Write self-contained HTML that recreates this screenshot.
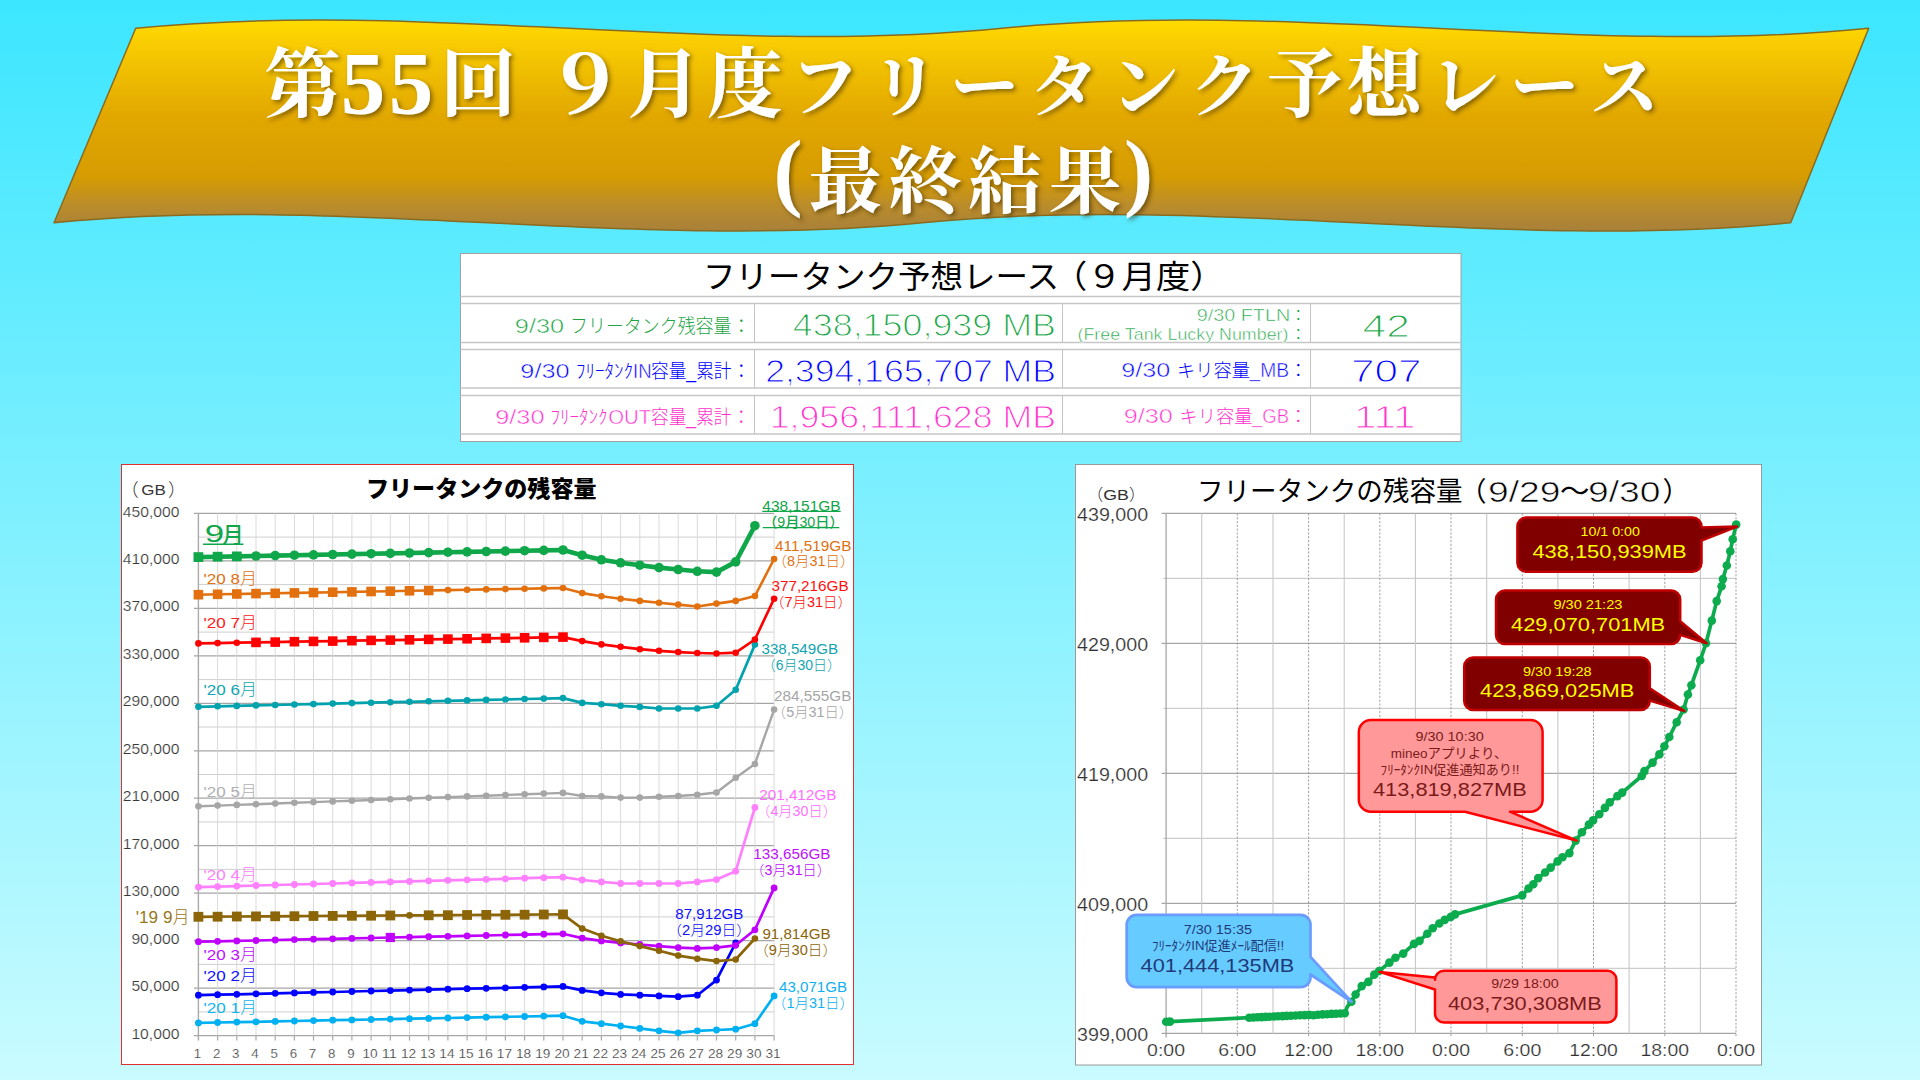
<!DOCTYPE html>
<html lang="ja">
<head>
<meta charset="utf-8">
<title>第55回 ９月度フリータンク予想レース (最終結果)</title>
<style>
html,body{margin:0;padding:0}
body{width:1920px;height:1080px;overflow:hidden;position:relative;
 background:linear-gradient(180deg,#3ce6ff 0%,#c9fbff 100%);
 font-family:"Liberation Sans","Noto Sans CJK JP",sans-serif}
svg{position:absolute;left:0;top:0;display:block}
text{font-family:"Liberation Sans","Noto Sans CJK JP",sans-serif;font-weight:300;white-space:pre}
.tw{stroke:#ffffff;stroke-width:1.05px}
.tl{stroke:#ffffff;stroke-width:0.5px}
.ta{stroke:#ffffff;stroke-width:0.2px}
.tt{stroke:#ffffff;stroke-width:0.6px}
text.ttl{font-family:"Liberation Serif","Noto Serif CJK JP","Noto Serif CJK SC",serif;font-weight:700}
</style>
</head>
<body>
<svg width="1920" height="1080" viewBox="0 0 1920 1080">
<defs>
<linearGradient id="gold" x1="0" y1="0" x2="0" y2="1">
<stop offset="0" stop-color="#ffdc00"/>
<stop offset="0.12" stop-color="#f8cb02"/>
<stop offset="0.45" stop-color="#e2a800"/>
<stop offset="0.745" stop-color="#d69c02"/>
<stop offset="0.875" stop-color="#bb8d2a"/>
<stop offset="1" stop-color="#a8803a"/>
</linearGradient>
<filter id="tsh" x="-5%" y="-20%" width="110%" height="150%">
<feDropShadow dx="2.5" dy="2.5" stdDeviation="2" flood-color="#3a2a00" flood-opacity="0.55"/>
</filter>
</defs>
<g id="banner">
<path d="M135.7 28.3 C424.5 -0.4 713.4 57.0 1002.2 28.3 C1291.0 -0.4 1579.9 57.0 1868.7 28.3 L1790.7 222.7 C1501.2 251.4 1211.8 194.0 922.4 222.7 C632.9 251.4 343.4 194.0 54.0 222.7 Z" fill="url(#gold)" stroke="#8a6a1e" stroke-width="1.5" stroke-linejoin="round"/>
<g font-weight="700" fill="#ffffff" text-anchor="middle" filter="url(#tsh)">
<text class="ttl" font-size="76" x="302.5 363.0 411.0 478.0 530.0 584.5 664.5 744.5 824.5 904.5 984.5 1064.5 1144.5 1224.5 1304.5 1384.5 1464.5 1544.5 1624.5" y="111.1 112.5 112.5 111.1 111.1 113.5 111.1 111.1 110.6 110.6 110.6 110.6 110.6 110.6 111.1 111.1 110.6 110.6 110.6">第<tspan font-size="89">55</tspan>回 <tspan font-size="80">９</tspan>月度<tspan font-size="69">フリータンク</tspan>予想<tspan font-size="69">レース</tspan></text>
<text class="ttl" font-size="73" x="788.0 845.0 925.0 1005.0 1085.0 1138.5" y="199.5 206.6 206.6 206.6 206.6 199.5"><tspan font-size="87">(</tspan>最終結果<tspan font-size="87">)</tspan></text>
</g></g>
<g id="summary-table">
<rect x="460.5" y="253.5" width="1000.5" height="188.0" fill="#ffffff" stroke="#a0a0a0" stroke-width="1"/>
<line x1="460.5" y1="296.5" x2="1461.0" y2="296.5" stroke="#c6c6c6" stroke-width="1.4"/>
<line x1="460.5" y1="303.5" x2="1461.0" y2="303.5" stroke="#c6c6c6" stroke-width="1.4"/>
<line x1="460.5" y1="342.5" x2="1461.0" y2="342.5" stroke="#c6c6c6" stroke-width="1.4"/>
<line x1="460.5" y1="349.5" x2="1461.0" y2="349.5" stroke="#c6c6c6" stroke-width="1.4"/>
<line x1="460.5" y1="388.0" x2="1461.0" y2="388.0" stroke="#c6c6c6" stroke-width="1.4"/>
<line x1="460.5" y1="395.5" x2="1461.0" y2="395.5" stroke="#c6c6c6" stroke-width="1.4"/>
<line x1="460.5" y1="434.0" x2="1461.0" y2="434.0" stroke="#c6c6c6" stroke-width="1.4"/>
<line x1="754.5" y1="303.5" x2="754.5" y2="342.5" stroke="#c4c4c4" stroke-width="1"/>
<line x1="1062.5" y1="303.5" x2="1062.5" y2="342.5" stroke="#c4c4c4" stroke-width="1"/>
<line x1="1310.5" y1="303.5" x2="1310.5" y2="342.5" stroke="#c4c4c4" stroke-width="1"/>
<line x1="754.5" y1="349.5" x2="754.5" y2="388.0" stroke="#c4c4c4" stroke-width="1"/>
<line x1="1062.5" y1="349.5" x2="1062.5" y2="388.0" stroke="#c4c4c4" stroke-width="1"/>
<line x1="1310.5" y1="349.5" x2="1310.5" y2="388.0" stroke="#c4c4c4" stroke-width="1"/>
<line x1="754.5" y1="395.5" x2="754.5" y2="434.0" stroke="#c4c4c4" stroke-width="1"/>
<line x1="1062.5" y1="395.5" x2="1062.5" y2="434.0" stroke="#c4c4c4" stroke-width="1"/>
<line x1="1310.5" y1="395.5" x2="1310.5" y2="434.0" stroke="#c4c4c4" stroke-width="1"/>
<text font-size="32" fill="#000000" y="288.0" style="font-weight:400"><tspan x="703.0" textLength="356.0" lengthAdjust="spacingAndGlyphs">フリータンク予想レース</tspan><tspan x="1053.0" textLength="171.5" lengthAdjust="spacingAndGlyphs">（９月度）</tspan></text>
<text y="332.7" fill="#1ea446"><tspan x="514.8" font-size="21" class="tl" textLength="49.3" lengthAdjust="spacingAndGlyphs">9/30</tspan><tspan x="570.0" font-size="19" textLength="161.5" lengthAdjust="spacingAndGlyphs">フリータンク残容量</tspan><tspan x="731.8" font-size="19">：</tspan></text>
<text x="792.8" y="335.5" font-size="32" fill="#1ea446" textLength="263.2" lengthAdjust="spacingAndGlyphs" class="tw">438,150,939 MB</text>
<text y="320.8" fill="#1ea446"><tspan x="1196.7" font-size="16" class="tl" textLength="93.5" lengthAdjust="spacingAndGlyphs">9/30 FTLN</tspan><tspan x="1290.2" font-size="16">：</tspan></text>
<text y="339.6" fill="#1ea446"><tspan x="1077.5" font-size="16" class="tl" textLength="211.0" lengthAdjust="spacingAndGlyphs">(Free Tank Lucky Number)</tspan><tspan x="1290.2" font-size="16">：</tspan></text>
<text x="1362.5" y="336.5" font-size="32" fill="#1ea446" textLength="47.3" lengthAdjust="spacingAndGlyphs" class="tw">42</text>
<text y="377.6" fill="#0000ff"><tspan x="520.3" font-size="21" class="tl" textLength="49.3" lengthAdjust="spacingAndGlyphs">9/30</tspan><tspan x="576.0" font-size="19" textLength="57.0" lengthAdjust="spacingAndGlyphs">ﾌﾘｰﾀﾝｸ</tspan><tspan x="633.0" font-size="21" class="tl" textLength="18.5" lengthAdjust="spacingAndGlyphs">IN</tspan><tspan x="651.0" font-size="19" textLength="80.5" lengthAdjust="spacingAndGlyphs">容量_累計</tspan><tspan x="731.8" font-size="19">：</tspan></text>
<text x="765.2" y="381.5" font-size="32" fill="#0000ff" textLength="290.8" lengthAdjust="spacingAndGlyphs" class="tw">2,394,165,707 MB</text>
<text y="377.0" fill="#0000ff"><tspan x="1121.3" font-size="20" class="tl" textLength="49.0" lengthAdjust="spacingAndGlyphs">9/30</tspan><tspan x="1177.0" font-size="18.5" textLength="73.0" lengthAdjust="spacingAndGlyphs">キリ容量</tspan><tspan x="1249.5" font-size="20" class="tl" textLength="39.5" lengthAdjust="spacingAndGlyphs">_MB</tspan><tspan x="1289.2" font-size="18">：</tspan></text>
<text x="1351.0" y="381.8" font-size="32" fill="#0000ff" textLength="70.5" lengthAdjust="spacingAndGlyphs" class="tw">707</text>
<text y="423.6" fill="#ff33cc"><tspan x="495.2" font-size="21" class="tl" textLength="49.3" lengthAdjust="spacingAndGlyphs">9/30</tspan><tspan x="550.5" font-size="19" textLength="57.0" lengthAdjust="spacingAndGlyphs">ﾌﾘｰﾀﾝｸ</tspan><tspan x="608.2" font-size="21" class="tl" textLength="43.0" lengthAdjust="spacingAndGlyphs">OUT</tspan><tspan x="651.0" font-size="19" textLength="80.5" lengthAdjust="spacingAndGlyphs">容量_累計</tspan><tspan x="731.8" font-size="19">：</tspan></text>
<text x="769.7" y="427.5" font-size="32" fill="#ff33cc" textLength="286.3" lengthAdjust="spacingAndGlyphs" class="tw">1,956,111,628 MB</text>
<text y="422.9" fill="#ff33cc"><tspan x="1123.8" font-size="20" class="tl" textLength="49.0" lengthAdjust="spacingAndGlyphs">9/30</tspan><tspan x="1179.5" font-size="18.5" textLength="73.0" lengthAdjust="spacingAndGlyphs">キリ容量</tspan><tspan x="1252.0" font-size="20" class="tl" textLength="37.0" lengthAdjust="spacingAndGlyphs">_GB</tspan><tspan x="1289.2" font-size="18">：</tspan></text>
<text x="1354.0" y="427.8" font-size="32" fill="#ff33cc" textLength="61.5" lengthAdjust="spacingAndGlyphs" class="tw">111</text>
</g>
<g id="chart-monthly">
<rect x="121.5" y="464.5" width="732" height="600" fill="#ffffff" stroke="#e03030" stroke-width="1"/>
<line x1="194.0" y1="513.4" x2="774.1" y2="513.4" stroke="#a6a6a6" stroke-width="1.2"/>
<line x1="198.4" y1="537.1" x2="774.1" y2="537.1" stroke="#cfcfcf" stroke-width="1.0"/>
<line x1="194.0" y1="560.9" x2="774.1" y2="560.9" stroke="#a6a6a6" stroke-width="1.2"/>
<line x1="198.4" y1="584.6" x2="774.1" y2="584.6" stroke="#cfcfcf" stroke-width="1.0"/>
<line x1="194.0" y1="608.3" x2="774.1" y2="608.3" stroke="#a6a6a6" stroke-width="1.2"/>
<line x1="198.4" y1="632.1" x2="774.1" y2="632.1" stroke="#cfcfcf" stroke-width="1.0"/>
<line x1="194.0" y1="655.8" x2="774.1" y2="655.8" stroke="#a6a6a6" stroke-width="1.2"/>
<line x1="198.4" y1="679.6" x2="774.1" y2="679.6" stroke="#cfcfcf" stroke-width="1.0"/>
<line x1="194.0" y1="703.3" x2="774.1" y2="703.3" stroke="#a6a6a6" stroke-width="1.2"/>
<line x1="198.4" y1="727.0" x2="774.1" y2="727.0" stroke="#cfcfcf" stroke-width="1.0"/>
<line x1="194.0" y1="750.8" x2="774.1" y2="750.8" stroke="#a6a6a6" stroke-width="1.2"/>
<line x1="198.4" y1="774.5" x2="774.1" y2="774.5" stroke="#cfcfcf" stroke-width="1.0"/>
<line x1="194.0" y1="798.2" x2="774.1" y2="798.2" stroke="#a6a6a6" stroke-width="1.2"/>
<line x1="198.4" y1="822.0" x2="774.1" y2="822.0" stroke="#cfcfcf" stroke-width="1.0"/>
<line x1="194.0" y1="845.7" x2="774.1" y2="845.7" stroke="#a6a6a6" stroke-width="1.2"/>
<line x1="198.4" y1="869.4" x2="774.1" y2="869.4" stroke="#cfcfcf" stroke-width="1.0"/>
<line x1="194.0" y1="893.2" x2="774.1" y2="893.2" stroke="#a6a6a6" stroke-width="1.2"/>
<line x1="198.4" y1="916.9" x2="774.1" y2="916.9" stroke="#cfcfcf" stroke-width="1.0"/>
<line x1="194.0" y1="940.7" x2="774.1" y2="940.7" stroke="#a6a6a6" stroke-width="1.2"/>
<line x1="198.4" y1="964.4" x2="774.1" y2="964.4" stroke="#cfcfcf" stroke-width="1.0"/>
<line x1="194.0" y1="988.1" x2="774.1" y2="988.1" stroke="#a6a6a6" stroke-width="1.2"/>
<line x1="198.4" y1="1011.9" x2="774.1" y2="1011.9" stroke="#cfcfcf" stroke-width="1.0"/>
<line x1="194.0" y1="1035.6" x2="774.1" y2="1035.6" stroke="#a6a6a6" stroke-width="1.2"/>
<line x1="198.4" y1="513.4" x2="198.4" y2="1040.6" stroke="#a9a9a9" stroke-width="1.4"/>
<line x1="217.6" y1="513.4" x2="217.6" y2="1035.6" stroke="#d6d6d6" stroke-width="0.9"/>
<line x1="217.6" y1="1035.6" x2="217.6" y2="1040.6" stroke="#a9a9a9" stroke-width="1.2"/>
<line x1="236.8" y1="513.4" x2="236.8" y2="1035.6" stroke="#d6d6d6" stroke-width="0.9"/>
<line x1="236.8" y1="1035.6" x2="236.8" y2="1040.6" stroke="#a9a9a9" stroke-width="1.2"/>
<line x1="256.0" y1="513.4" x2="256.0" y2="1035.6" stroke="#d6d6d6" stroke-width="0.9"/>
<line x1="256.0" y1="1035.6" x2="256.0" y2="1040.6" stroke="#a9a9a9" stroke-width="1.2"/>
<line x1="275.2" y1="513.4" x2="275.2" y2="1035.6" stroke="#d6d6d6" stroke-width="0.9"/>
<line x1="275.2" y1="1035.6" x2="275.2" y2="1040.6" stroke="#a9a9a9" stroke-width="1.2"/>
<line x1="294.4" y1="513.4" x2="294.4" y2="1035.6" stroke="#d6d6d6" stroke-width="0.9"/>
<line x1="294.4" y1="1035.6" x2="294.4" y2="1040.6" stroke="#a9a9a9" stroke-width="1.2"/>
<line x1="313.5" y1="513.4" x2="313.5" y2="1035.6" stroke="#d6d6d6" stroke-width="0.9"/>
<line x1="313.5" y1="1035.6" x2="313.5" y2="1040.6" stroke="#a9a9a9" stroke-width="1.2"/>
<line x1="332.7" y1="513.4" x2="332.7" y2="1035.6" stroke="#d6d6d6" stroke-width="0.9"/>
<line x1="332.7" y1="1035.6" x2="332.7" y2="1040.6" stroke="#a9a9a9" stroke-width="1.2"/>
<line x1="351.9" y1="513.4" x2="351.9" y2="1035.6" stroke="#d6d6d6" stroke-width="0.9"/>
<line x1="351.9" y1="1035.6" x2="351.9" y2="1040.6" stroke="#a9a9a9" stroke-width="1.2"/>
<line x1="371.1" y1="513.4" x2="371.1" y2="1035.6" stroke="#d6d6d6" stroke-width="0.9"/>
<line x1="371.1" y1="1035.6" x2="371.1" y2="1040.6" stroke="#a9a9a9" stroke-width="1.2"/>
<line x1="390.3" y1="513.4" x2="390.3" y2="1035.6" stroke="#d6d6d6" stroke-width="0.9"/>
<line x1="390.3" y1="1035.6" x2="390.3" y2="1040.6" stroke="#a9a9a9" stroke-width="1.2"/>
<line x1="409.5" y1="513.4" x2="409.5" y2="1035.6" stroke="#d6d6d6" stroke-width="0.9"/>
<line x1="409.5" y1="1035.6" x2="409.5" y2="1040.6" stroke="#a9a9a9" stroke-width="1.2"/>
<line x1="428.7" y1="513.4" x2="428.7" y2="1035.6" stroke="#d6d6d6" stroke-width="0.9"/>
<line x1="428.7" y1="1035.6" x2="428.7" y2="1040.6" stroke="#a9a9a9" stroke-width="1.2"/>
<line x1="447.9" y1="513.4" x2="447.9" y2="1035.6" stroke="#d6d6d6" stroke-width="0.9"/>
<line x1="447.9" y1="1035.6" x2="447.9" y2="1040.6" stroke="#a9a9a9" stroke-width="1.2"/>
<line x1="467.1" y1="513.4" x2="467.1" y2="1035.6" stroke="#d6d6d6" stroke-width="0.9"/>
<line x1="467.1" y1="1035.6" x2="467.1" y2="1040.6" stroke="#a9a9a9" stroke-width="1.2"/>
<line x1="486.2" y1="513.4" x2="486.2" y2="1035.6" stroke="#d6d6d6" stroke-width="0.9"/>
<line x1="486.2" y1="1035.6" x2="486.2" y2="1040.6" stroke="#a9a9a9" stroke-width="1.2"/>
<line x1="505.4" y1="513.4" x2="505.4" y2="1035.6" stroke="#d6d6d6" stroke-width="0.9"/>
<line x1="505.4" y1="1035.6" x2="505.4" y2="1040.6" stroke="#a9a9a9" stroke-width="1.2"/>
<line x1="524.6" y1="513.4" x2="524.6" y2="1035.6" stroke="#d6d6d6" stroke-width="0.9"/>
<line x1="524.6" y1="1035.6" x2="524.6" y2="1040.6" stroke="#a9a9a9" stroke-width="1.2"/>
<line x1="543.8" y1="513.4" x2="543.8" y2="1035.6" stroke="#d6d6d6" stroke-width="0.9"/>
<line x1="543.8" y1="1035.6" x2="543.8" y2="1040.6" stroke="#a9a9a9" stroke-width="1.2"/>
<line x1="563.0" y1="513.4" x2="563.0" y2="1035.6" stroke="#d6d6d6" stroke-width="0.9"/>
<line x1="563.0" y1="1035.6" x2="563.0" y2="1040.6" stroke="#a9a9a9" stroke-width="1.2"/>
<line x1="582.2" y1="513.4" x2="582.2" y2="1035.6" stroke="#d6d6d6" stroke-width="0.9"/>
<line x1="582.2" y1="1035.6" x2="582.2" y2="1040.6" stroke="#a9a9a9" stroke-width="1.2"/>
<line x1="601.4" y1="513.4" x2="601.4" y2="1035.6" stroke="#d6d6d6" stroke-width="0.9"/>
<line x1="601.4" y1="1035.6" x2="601.4" y2="1040.6" stroke="#a9a9a9" stroke-width="1.2"/>
<line x1="620.6" y1="513.4" x2="620.6" y2="1035.6" stroke="#d6d6d6" stroke-width="0.9"/>
<line x1="620.6" y1="1035.6" x2="620.6" y2="1040.6" stroke="#a9a9a9" stroke-width="1.2"/>
<line x1="639.8" y1="513.4" x2="639.8" y2="1035.6" stroke="#d6d6d6" stroke-width="0.9"/>
<line x1="639.8" y1="1035.6" x2="639.8" y2="1040.6" stroke="#a9a9a9" stroke-width="1.2"/>
<line x1="659.0" y1="513.4" x2="659.0" y2="1035.6" stroke="#d6d6d6" stroke-width="0.9"/>
<line x1="659.0" y1="1035.6" x2="659.0" y2="1040.6" stroke="#a9a9a9" stroke-width="1.2"/>
<line x1="678.2" y1="513.4" x2="678.2" y2="1035.6" stroke="#d6d6d6" stroke-width="0.9"/>
<line x1="678.2" y1="1035.6" x2="678.2" y2="1040.6" stroke="#a9a9a9" stroke-width="1.2"/>
<line x1="697.3" y1="513.4" x2="697.3" y2="1035.6" stroke="#d6d6d6" stroke-width="0.9"/>
<line x1="697.3" y1="1035.6" x2="697.3" y2="1040.6" stroke="#a9a9a9" stroke-width="1.2"/>
<line x1="716.5" y1="513.4" x2="716.5" y2="1035.6" stroke="#d6d6d6" stroke-width="0.9"/>
<line x1="716.5" y1="1035.6" x2="716.5" y2="1040.6" stroke="#a9a9a9" stroke-width="1.2"/>
<line x1="735.7" y1="513.4" x2="735.7" y2="1035.6" stroke="#d6d6d6" stroke-width="0.9"/>
<line x1="735.7" y1="1035.6" x2="735.7" y2="1040.6" stroke="#a9a9a9" stroke-width="1.2"/>
<line x1="754.9" y1="513.4" x2="754.9" y2="1035.6" stroke="#d6d6d6" stroke-width="0.9"/>
<line x1="754.9" y1="1035.6" x2="754.9" y2="1040.6" stroke="#a9a9a9" stroke-width="1.2"/>
<line x1="774.1" y1="513.4" x2="774.1" y2="1035.6" stroke="#d6d6d6" stroke-width="0.9"/>
<line x1="774.1" y1="1035.6" x2="774.1" y2="1040.6" stroke="#a9a9a9" stroke-width="1.2"/>
<text x="122.8" y="516.5" font-size="15" fill="#383838" textLength="56.6" lengthAdjust="spacingAndGlyphs" class="ta">450,000</text>
<text x="122.8" y="564.0" font-size="15" fill="#383838" textLength="56.6" lengthAdjust="spacingAndGlyphs" class="ta">410,000</text>
<text x="122.8" y="611.4" font-size="15" fill="#383838" textLength="56.6" lengthAdjust="spacingAndGlyphs" class="ta">370,000</text>
<text x="122.8" y="658.9" font-size="15" fill="#383838" textLength="56.6" lengthAdjust="spacingAndGlyphs" class="ta">330,000</text>
<text x="122.8" y="706.4" font-size="15" fill="#383838" textLength="56.6" lengthAdjust="spacingAndGlyphs" class="ta">290,000</text>
<text x="122.8" y="753.9" font-size="15" fill="#383838" textLength="56.6" lengthAdjust="spacingAndGlyphs" class="ta">250,000</text>
<text x="122.8" y="801.3" font-size="15" fill="#383838" textLength="56.6" lengthAdjust="spacingAndGlyphs" class="ta">210,000</text>
<text x="122.8" y="848.8" font-size="15" fill="#383838" textLength="56.6" lengthAdjust="spacingAndGlyphs" class="ta">170,000</text>
<text x="122.8" y="896.3" font-size="15" fill="#383838" textLength="56.6" lengthAdjust="spacingAndGlyphs" class="ta">130,000</text>
<text x="131.4" y="943.8" font-size="15" fill="#383838" textLength="48.0" lengthAdjust="spacingAndGlyphs" class="ta">90,000</text>
<text x="131.4" y="991.2" font-size="15" fill="#383838" textLength="48.0" lengthAdjust="spacingAndGlyphs" class="ta">50,000</text>
<text x="131.4" y="1038.7" font-size="15" fill="#383838" textLength="48.0" lengthAdjust="spacingAndGlyphs" class="ta">10,000</text>
<text x="193.7" y="1058.3" font-size="13" fill="#3c3c3c" textLength="7.4" lengthAdjust="spacingAndGlyphs" class="ta">1</text>
<text x="212.9" y="1058.3" font-size="13" fill="#3c3c3c" textLength="7.4" lengthAdjust="spacingAndGlyphs" class="ta">2</text>
<text x="232.1" y="1058.3" font-size="13" fill="#3c3c3c" textLength="7.4" lengthAdjust="spacingAndGlyphs" class="ta">3</text>
<text x="251.3" y="1058.3" font-size="13" fill="#3c3c3c" textLength="7.4" lengthAdjust="spacingAndGlyphs" class="ta">4</text>
<text x="270.5" y="1058.3" font-size="13" fill="#3c3c3c" textLength="7.4" lengthAdjust="spacingAndGlyphs" class="ta">5</text>
<text x="289.7" y="1058.3" font-size="13" fill="#3c3c3c" textLength="7.4" lengthAdjust="spacingAndGlyphs" class="ta">6</text>
<text x="308.8" y="1058.3" font-size="13" fill="#3c3c3c" textLength="7.4" lengthAdjust="spacingAndGlyphs" class="ta">7</text>
<text x="328.0" y="1058.3" font-size="13" fill="#3c3c3c" textLength="7.4" lengthAdjust="spacingAndGlyphs" class="ta">8</text>
<text x="347.2" y="1058.3" font-size="13" fill="#3c3c3c" textLength="7.4" lengthAdjust="spacingAndGlyphs" class="ta">9</text>
<text x="362.5" y="1058.3" font-size="13" fill="#3c3c3c" textLength="15.2" lengthAdjust="spacingAndGlyphs" class="ta">10</text>
<text x="381.7" y="1058.3" font-size="13" fill="#3c3c3c" textLength="15.2" lengthAdjust="spacingAndGlyphs" class="ta">11</text>
<text x="400.9" y="1058.3" font-size="13" fill="#3c3c3c" textLength="15.2" lengthAdjust="spacingAndGlyphs" class="ta">12</text>
<text x="420.1" y="1058.3" font-size="13" fill="#3c3c3c" textLength="15.2" lengthAdjust="spacingAndGlyphs" class="ta">13</text>
<text x="439.3" y="1058.3" font-size="13" fill="#3c3c3c" textLength="15.2" lengthAdjust="spacingAndGlyphs" class="ta">14</text>
<text x="458.5" y="1058.3" font-size="13" fill="#3c3c3c" textLength="15.2" lengthAdjust="spacingAndGlyphs" class="ta">15</text>
<text x="477.6" y="1058.3" font-size="13" fill="#3c3c3c" textLength="15.2" lengthAdjust="spacingAndGlyphs" class="ta">16</text>
<text x="496.8" y="1058.3" font-size="13" fill="#3c3c3c" textLength="15.2" lengthAdjust="spacingAndGlyphs" class="ta">17</text>
<text x="516.0" y="1058.3" font-size="13" fill="#3c3c3c" textLength="15.2" lengthAdjust="spacingAndGlyphs" class="ta">18</text>
<text x="535.2" y="1058.3" font-size="13" fill="#3c3c3c" textLength="15.2" lengthAdjust="spacingAndGlyphs" class="ta">19</text>
<text x="554.4" y="1058.3" font-size="13" fill="#3c3c3c" textLength="15.2" lengthAdjust="spacingAndGlyphs" class="ta">20</text>
<text x="573.6" y="1058.3" font-size="13" fill="#3c3c3c" textLength="15.2" lengthAdjust="spacingAndGlyphs" class="ta">21</text>
<text x="592.8" y="1058.3" font-size="13" fill="#3c3c3c" textLength="15.2" lengthAdjust="spacingAndGlyphs" class="ta">22</text>
<text x="612.0" y="1058.3" font-size="13" fill="#3c3c3c" textLength="15.2" lengthAdjust="spacingAndGlyphs" class="ta">23</text>
<text x="631.2" y="1058.3" font-size="13" fill="#3c3c3c" textLength="15.2" lengthAdjust="spacingAndGlyphs" class="ta">24</text>
<text x="650.4" y="1058.3" font-size="13" fill="#3c3c3c" textLength="15.2" lengthAdjust="spacingAndGlyphs" class="ta">25</text>
<text x="669.6" y="1058.3" font-size="13" fill="#3c3c3c" textLength="15.2" lengthAdjust="spacingAndGlyphs" class="ta">26</text>
<text x="688.7" y="1058.3" font-size="13" fill="#3c3c3c" textLength="15.2" lengthAdjust="spacingAndGlyphs" class="ta">27</text>
<text x="707.9" y="1058.3" font-size="13" fill="#3c3c3c" textLength="15.2" lengthAdjust="spacingAndGlyphs" class="ta">28</text>
<text x="727.1" y="1058.3" font-size="13" fill="#3c3c3c" textLength="15.2" lengthAdjust="spacingAndGlyphs" class="ta">29</text>
<text x="746.3" y="1058.3" font-size="13" fill="#3c3c3c" textLength="15.2" lengthAdjust="spacingAndGlyphs" class="ta">30</text>
<text x="765.5" y="1058.3" font-size="13" fill="#3c3c3c" textLength="15.2" lengthAdjust="spacingAndGlyphs" class="ta">31</text>
<text fill="#383838"><tspan font-size="18" x="120.7" y="495.8">（</tspan><tspan font-size="15.5" x="141.3" y="495.0" textLength="24.6" lengthAdjust="spacingAndGlyphs">GB</tspan><tspan font-size="18" x="167.9" y="495.8">）</tspan></text>
<text x="366.0" y="497.1" font-size="22.5" fill="#000000" style="font-weight:900" textLength="230.5" lengthAdjust="spacingAndGlyphs">フリータンクの残容量</text>
<g fill="#00b0f0">
<polyline points="198.4,1022.9 217.6,1022.5 236.8,1022.1 256.0,1021.8 275.2,1021.4 294.4,1021.0 313.5,1020.6 332.7,1020.2 351.9,1019.9 371.1,1019.5 390.3,1019.1 409.5,1018.7 428.7,1018.4 447.9,1018.0 467.1,1017.6 486.2,1017.2 505.4,1016.8 524.6,1016.5 543.8,1016.1 563.0,1015.7 582.2,1021.3 601.4,1023.7 620.6,1026.0 639.8,1028.4 659.0,1030.8 678.2,1032.8 697.3,1030.8 716.5,1030.0 735.7,1029.2 754.9,1023.7 774.1,995.9" fill="none" stroke="#00b0f0" stroke-width="2.7" stroke-linejoin="round" stroke-linecap="round"/>
<circle cx="198.4" cy="1022.9" r="3.4"/>
<circle cx="217.6" cy="1022.5" r="3.4"/>
<circle cx="236.8" cy="1022.1" r="3.4"/>
<circle cx="256.0" cy="1021.8" r="3.4"/>
<circle cx="275.2" cy="1021.4" r="3.4"/>
<circle cx="294.4" cy="1021.0" r="3.4"/>
<circle cx="313.5" cy="1020.6" r="3.4"/>
<circle cx="332.7" cy="1020.2" r="3.4"/>
<circle cx="351.9" cy="1019.9" r="3.4"/>
<circle cx="371.1" cy="1019.5" r="3.4"/>
<circle cx="390.3" cy="1019.1" r="3.4"/>
<circle cx="409.5" cy="1018.7" r="3.4"/>
<circle cx="428.7" cy="1018.4" r="3.4"/>
<circle cx="447.9" cy="1018.0" r="3.4"/>
<circle cx="467.1" cy="1017.6" r="3.4"/>
<circle cx="486.2" cy="1017.2" r="3.4"/>
<circle cx="505.4" cy="1016.8" r="3.4"/>
<circle cx="524.6" cy="1016.5" r="3.4"/>
<circle cx="543.8" cy="1016.1" r="3.4"/>
<circle cx="563.0" cy="1015.7" r="3.4"/>
<circle cx="582.2" cy="1021.3" r="3.4"/>
<circle cx="601.4" cy="1023.7" r="3.4"/>
<circle cx="620.6" cy="1026.0" r="3.4"/>
<circle cx="639.8" cy="1028.4" r="3.4"/>
<circle cx="659.0" cy="1030.8" r="3.4"/>
<circle cx="678.2" cy="1032.8" r="3.4"/>
<circle cx="697.3" cy="1030.8" r="3.4"/>
<circle cx="716.5" cy="1030.0" r="3.4"/>
<circle cx="735.7" cy="1029.2" r="3.4"/>
<circle cx="754.9" cy="1023.7" r="3.4"/>
<circle cx="774.1" cy="995.9" r="3.4"/>
</g>
<g fill="#0000ff">
<polyline points="198.4,995.2 217.6,994.7 236.8,994.3 256.0,993.8 275.2,993.3 294.4,992.9 313.5,992.4 332.7,992.0 351.9,991.5 371.1,991.0 390.3,990.6 409.5,990.1 428.7,989.6 447.9,989.2 467.1,988.7 486.2,988.3 505.4,987.8 524.6,987.3 543.8,986.9 563.0,986.4 582.2,990.4 601.4,992.8 620.6,994.4 639.8,995.2 659.0,995.9 678.2,996.7 697.3,995.2 716.5,980.1 735.7,942.9" fill="none" stroke="#0000ff" stroke-width="2.7" stroke-linejoin="round" stroke-linecap="round"/>
<circle cx="198.4" cy="995.2" r="3.4"/>
<circle cx="217.6" cy="994.7" r="3.4"/>
<circle cx="236.8" cy="994.3" r="3.4"/>
<circle cx="256.0" cy="993.8" r="3.4"/>
<circle cx="275.2" cy="993.3" r="3.4"/>
<circle cx="294.4" cy="992.9" r="3.4"/>
<circle cx="313.5" cy="992.4" r="3.4"/>
<circle cx="332.7" cy="992.0" r="3.4"/>
<circle cx="351.9" cy="991.5" r="3.4"/>
<circle cx="371.1" cy="991.0" r="3.4"/>
<circle cx="390.3" cy="990.6" r="3.4"/>
<circle cx="409.5" cy="990.1" r="3.4"/>
<circle cx="428.7" cy="989.6" r="3.4"/>
<circle cx="447.9" cy="989.2" r="3.4"/>
<circle cx="467.1" cy="988.7" r="3.4"/>
<circle cx="486.2" cy="988.3" r="3.4"/>
<circle cx="505.4" cy="987.8" r="3.4"/>
<circle cx="524.6" cy="987.3" r="3.4"/>
<circle cx="543.8" cy="986.9" r="3.4"/>
<circle cx="563.0" cy="986.4" r="3.4"/>
<circle cx="582.2" cy="990.4" r="3.4"/>
<circle cx="601.4" cy="992.8" r="3.4"/>
<circle cx="620.6" cy="994.4" r="3.4"/>
<circle cx="639.8" cy="995.2" r="3.4"/>
<circle cx="659.0" cy="995.9" r="3.4"/>
<circle cx="678.2" cy="996.7" r="3.4"/>
<circle cx="697.3" cy="995.2" r="3.4"/>
<circle cx="716.5" cy="980.1" r="3.4"/>
<circle cx="735.7" cy="942.9" r="3.4"/>
</g>
<g fill="#c000ff">
<polyline points="198.4,941.7 217.6,941.3 236.8,940.9 256.0,940.5 275.2,940.0 294.4,939.6 313.5,939.2 332.7,938.8 351.9,938.4 371.1,938.0 390.3,937.5 409.5,937.1 428.7,936.7 447.9,936.3 467.1,935.9 486.2,935.5 505.4,935.0 524.6,934.6 543.8,934.2 563.0,933.8 582.2,938.1 601.4,940.9 620.6,942.9 639.8,944.5 659.0,946.1 678.2,947.6 697.3,948.4 716.5,947.6 735.7,945.3 754.9,929.8 774.1,887.9" fill="none" stroke="#c000ff" stroke-width="2.7" stroke-linejoin="round" stroke-linecap="round"/>
<circle cx="198.4" cy="941.7" r="3.4"/>
<circle cx="217.6" cy="941.3" r="3.4"/>
<circle cx="236.8" cy="940.9" r="3.4"/>
<circle cx="256.0" cy="940.5" r="3.4"/>
<circle cx="275.2" cy="940.0" r="3.4"/>
<circle cx="294.4" cy="939.6" r="3.4"/>
<circle cx="313.5" cy="939.2" r="3.4"/>
<circle cx="332.7" cy="938.8" r="3.4"/>
<circle cx="351.9" cy="938.4" r="3.4"/>
<circle cx="371.1" cy="938.0" r="3.4"/>
<rect x="385.7" y="932.9" width="9.2" height="9.2"/>
<circle cx="409.5" cy="937.1" r="3.4"/>
<circle cx="428.7" cy="936.7" r="3.4"/>
<circle cx="447.9" cy="936.3" r="3.4"/>
<circle cx="467.1" cy="935.9" r="3.4"/>
<circle cx="486.2" cy="935.5" r="3.4"/>
<circle cx="505.4" cy="935.0" r="3.4"/>
<circle cx="524.6" cy="934.6" r="3.4"/>
<circle cx="543.8" cy="934.2" r="3.4"/>
<circle cx="563.0" cy="933.8" r="3.4"/>
<circle cx="582.2" cy="938.1" r="3.4"/>
<circle cx="601.4" cy="940.9" r="3.4"/>
<circle cx="620.6" cy="942.9" r="3.4"/>
<circle cx="639.8" cy="944.5" r="3.4"/>
<circle cx="659.0" cy="946.1" r="3.4"/>
<circle cx="678.2" cy="947.6" r="3.4"/>
<circle cx="697.3" cy="948.4" r="3.4"/>
<circle cx="716.5" cy="947.6" r="3.4"/>
<circle cx="735.7" cy="945.3" r="3.4"/>
<circle cx="754.9" cy="929.8" r="3.4"/>
<circle cx="774.1" cy="887.9" r="3.4"/>
</g>
<g fill="#8b6508">
<polyline points="198.4,916.8 217.6,916.7 236.8,916.5 256.0,916.4 275.2,916.3 294.4,916.2 313.5,916.0 332.7,915.9 351.9,915.8 371.1,915.7 390.3,915.5 409.5,915.4 428.7,915.3 447.9,915.2 467.1,915.0 486.2,914.9 505.4,914.8 524.6,914.7 543.8,914.5 563.0,914.4 582.2,928.6 601.4,935.8 620.6,941.3 639.8,946.1 659.0,950.8 678.2,955.6 697.3,958.7 716.5,961.1 735.7,959.5 754.9,938.5" fill="none" stroke="#8b6508" stroke-width="2.7" stroke-linejoin="round" stroke-linecap="round"/>
<rect x="193.5" y="911.9" width="9.8" height="9.8"/>
<rect x="212.7" y="911.8" width="9.8" height="9.8"/>
<rect x="231.9" y="911.6" width="9.8" height="9.8"/>
<rect x="251.1" y="911.5" width="9.8" height="9.8"/>
<rect x="270.3" y="911.4" width="9.8" height="9.8"/>
<rect x="289.5" y="911.3" width="9.8" height="9.8"/>
<rect x="308.6" y="911.1" width="9.8" height="9.8"/>
<rect x="327.8" y="911.0" width="9.8" height="9.8"/>
<rect x="347.0" y="910.9" width="9.8" height="9.8"/>
<rect x="366.2" y="910.8" width="9.8" height="9.8"/>
<rect x="385.4" y="910.6" width="9.8" height="9.8"/>
<circle cx="409.5" cy="915.4" r="3.3"/>
<rect x="423.8" y="910.4" width="9.8" height="9.8"/>
<rect x="443.0" y="910.3" width="9.8" height="9.8"/>
<rect x="462.2" y="910.1" width="9.8" height="9.8"/>
<rect x="481.4" y="910.0" width="9.8" height="9.8"/>
<rect x="500.5" y="909.9" width="9.8" height="9.8"/>
<rect x="519.7" y="909.8" width="9.8" height="9.8"/>
<rect x="538.9" y="909.6" width="9.8" height="9.8"/>
<rect x="558.1" y="909.5" width="9.8" height="9.8"/>
<circle cx="582.2" cy="928.6" r="3.3"/>
<circle cx="601.4" cy="935.8" r="3.3"/>
<circle cx="620.6" cy="941.3" r="3.3"/>
<circle cx="639.8" cy="946.1" r="3.3"/>
<circle cx="659.0" cy="950.8" r="3.3"/>
<circle cx="678.2" cy="955.6" r="3.3"/>
<circle cx="697.3" cy="958.7" r="3.3"/>
<circle cx="716.5" cy="961.1" r="3.3"/>
<circle cx="735.7" cy="959.5" r="3.3"/>
<circle cx="754.9" cy="938.5" r="3.3"/>
</g>
<g fill="#ff80ff">
<polyline points="198.4,887.1 217.6,886.6 236.8,886.1 256.0,885.5 275.2,885.0 294.4,884.5 313.5,884.0 332.7,883.5 351.9,882.9 371.1,882.4 390.3,881.9 409.5,881.4 428.7,880.8 447.9,880.3 467.1,879.8 486.2,879.3 505.4,878.8 524.6,878.2 543.8,877.7 563.0,877.2 582.2,880.0 601.4,881.9 620.6,883.5 639.8,883.5 659.0,883.5 678.2,883.5 697.3,881.9 716.5,879.6 735.7,871.2 754.9,807.5" fill="none" stroke="#ff80ff" stroke-width="2.7" stroke-linejoin="round" stroke-linecap="round"/>
<circle cx="198.4" cy="887.1" r="3.4"/>
<circle cx="217.6" cy="886.6" r="3.4"/>
<circle cx="236.8" cy="886.1" r="3.4"/>
<circle cx="256.0" cy="885.5" r="3.4"/>
<circle cx="275.2" cy="885.0" r="3.4"/>
<circle cx="294.4" cy="884.5" r="3.4"/>
<circle cx="313.5" cy="884.0" r="3.4"/>
<circle cx="332.7" cy="883.5" r="3.4"/>
<circle cx="351.9" cy="882.9" r="3.4"/>
<circle cx="371.1" cy="882.4" r="3.4"/>
<circle cx="390.3" cy="881.9" r="3.4"/>
<circle cx="409.5" cy="881.4" r="3.4"/>
<circle cx="428.7" cy="880.8" r="3.4"/>
<circle cx="447.9" cy="880.3" r="3.4"/>
<circle cx="467.1" cy="879.8" r="3.4"/>
<circle cx="486.2" cy="879.3" r="3.4"/>
<circle cx="505.4" cy="878.8" r="3.4"/>
<circle cx="524.6" cy="878.2" r="3.4"/>
<circle cx="543.8" cy="877.7" r="3.4"/>
<circle cx="563.0" cy="877.2" r="3.4"/>
<circle cx="582.2" cy="880.0" r="3.4"/>
<circle cx="601.4" cy="881.9" r="3.4"/>
<circle cx="620.6" cy="883.5" r="3.4"/>
<circle cx="639.8" cy="883.5" r="3.4"/>
<circle cx="659.0" cy="883.5" r="3.4"/>
<circle cx="678.2" cy="883.5" r="3.4"/>
<circle cx="697.3" cy="881.9" r="3.4"/>
<circle cx="716.5" cy="879.6" r="3.4"/>
<circle cx="735.7" cy="871.2" r="3.4"/>
<circle cx="754.9" cy="807.5" r="3.4"/>
</g>
<g fill="#a6a6a6">
<polyline points="198.4,806.3 217.6,805.6 236.8,804.9 256.0,804.2 275.2,803.5 294.4,802.8 313.5,802.1 332.7,801.4 351.9,800.7 371.1,800.0 390.3,799.2 409.5,798.5 428.7,797.8 447.9,797.1 467.1,796.4 486.2,795.7 505.4,795.0 524.6,794.3 543.8,793.6 563.0,792.9 582.2,796.0 601.4,796.4 620.6,797.6 639.8,797.6 659.0,796.8 678.2,796.0 697.3,794.8 716.5,792.5 735.7,777.8 754.9,764.0 774.1,709.6" fill="none" stroke="#a6a6a6" stroke-width="2.4" stroke-linejoin="round" stroke-linecap="round"/>
<circle cx="198.4" cy="806.3" r="3.3"/>
<circle cx="217.6" cy="805.6" r="3.3"/>
<circle cx="236.8" cy="804.9" r="3.3"/>
<circle cx="256.0" cy="804.2" r="3.3"/>
<circle cx="275.2" cy="803.5" r="3.3"/>
<circle cx="294.4" cy="802.8" r="3.3"/>
<circle cx="313.5" cy="802.1" r="3.3"/>
<circle cx="332.7" cy="801.4" r="3.3"/>
<circle cx="351.9" cy="800.7" r="3.3"/>
<circle cx="371.1" cy="800.0" r="3.3"/>
<circle cx="390.3" cy="799.2" r="3.3"/>
<circle cx="409.5" cy="798.5" r="3.3"/>
<circle cx="428.7" cy="797.8" r="3.3"/>
<circle cx="447.9" cy="797.1" r="3.3"/>
<circle cx="467.1" cy="796.4" r="3.3"/>
<circle cx="486.2" cy="795.7" r="3.3"/>
<circle cx="505.4" cy="795.0" r="3.3"/>
<circle cx="524.6" cy="794.3" r="3.3"/>
<circle cx="543.8" cy="793.6" r="3.3"/>
<circle cx="563.0" cy="792.9" r="3.3"/>
<circle cx="582.2" cy="796.0" r="3.3"/>
<circle cx="601.4" cy="796.4" r="3.3"/>
<circle cx="620.6" cy="797.6" r="3.3"/>
<circle cx="639.8" cy="797.6" r="3.3"/>
<circle cx="659.0" cy="796.8" r="3.3"/>
<circle cx="678.2" cy="796.0" r="3.3"/>
<circle cx="697.3" cy="794.8" r="3.3"/>
<circle cx="716.5" cy="792.5" r="3.3"/>
<circle cx="735.7" cy="777.8" r="3.3"/>
<circle cx="754.9" cy="764.0" r="3.3"/>
<circle cx="774.1" cy="709.6" r="3.3"/>
</g>
<g fill="#00a2ad">
<polyline points="198.4,706.8 217.6,706.3 236.8,705.9 256.0,705.4 275.2,705.0 294.4,704.5 313.5,704.1 332.7,703.6 351.9,703.1 371.1,702.7 390.3,702.2 409.5,701.8 428.7,701.3 447.9,700.8 467.1,700.4 486.2,699.9 505.4,699.5 524.6,699.0 543.8,698.6 563.0,698.1 582.2,702.9 601.4,704.2 620.6,705.8 639.8,706.9 659.0,708.5 678.2,708.5 697.3,708.5 716.5,705.8 735.7,689.7 754.9,644.6" fill="none" stroke="#00a2ad" stroke-width="2.7" stroke-linejoin="round" stroke-linecap="round"/>
<circle cx="198.4" cy="706.8" r="3.3"/>
<circle cx="217.6" cy="706.3" r="3.3"/>
<circle cx="236.8" cy="705.9" r="3.3"/>
<circle cx="256.0" cy="705.4" r="3.3"/>
<circle cx="275.2" cy="705.0" r="3.3"/>
<circle cx="294.4" cy="704.5" r="3.3"/>
<circle cx="313.5" cy="704.1" r="3.3"/>
<circle cx="332.7" cy="703.6" r="3.3"/>
<circle cx="351.9" cy="703.1" r="3.3"/>
<circle cx="371.1" cy="702.7" r="3.3"/>
<circle cx="390.3" cy="702.2" r="3.3"/>
<circle cx="409.5" cy="701.8" r="3.3"/>
<circle cx="428.7" cy="701.3" r="3.3"/>
<circle cx="447.9" cy="700.8" r="3.3"/>
<circle cx="467.1" cy="700.4" r="3.3"/>
<circle cx="486.2" cy="699.9" r="3.3"/>
<circle cx="505.4" cy="699.5" r="3.3"/>
<circle cx="524.6" cy="699.0" r="3.3"/>
<circle cx="543.8" cy="698.6" r="3.3"/>
<circle cx="563.0" cy="698.1" r="3.3"/>
<circle cx="582.2" cy="702.9" r="3.3"/>
<circle cx="601.4" cy="704.2" r="3.3"/>
<circle cx="620.6" cy="705.8" r="3.3"/>
<circle cx="639.8" cy="706.9" r="3.3"/>
<circle cx="659.0" cy="708.5" r="3.3"/>
<circle cx="678.2" cy="708.5" r="3.3"/>
<circle cx="697.3" cy="708.5" r="3.3"/>
<circle cx="716.5" cy="705.8" r="3.3"/>
<circle cx="735.7" cy="689.7" r="3.3"/>
<circle cx="754.9" cy="644.6" r="3.3"/>
</g>
<g fill="#ff0000">
<polyline points="198.4,643.4 217.6,643.1 236.8,642.7 256.0,642.4 275.2,642.1 294.4,641.7 313.5,641.4 332.7,641.1 351.9,640.7 371.1,640.4 390.3,640.1 409.5,639.8 428.7,639.4 447.9,639.1 467.1,638.8 486.2,638.4 505.4,638.1 524.6,637.8 543.8,637.4 563.0,637.1 582.2,641.1 601.4,644.4 620.6,646.8 639.8,649.2 659.0,650.8 678.2,652.1 697.3,653.0 716.5,653.5 735.7,652.7 754.9,639.5 774.1,598.7" fill="none" stroke="#ff0000" stroke-width="2.7" stroke-linejoin="round" stroke-linecap="round"/>
<circle cx="198.4" cy="643.4" r="3.3"/>
<circle cx="217.6" cy="643.1" r="3.3"/>
<circle cx="236.8" cy="642.7" r="3.3"/>
<rect x="251.2" y="637.6" width="9.6" height="9.6"/>
<rect x="270.4" y="637.3" width="9.6" height="9.6"/>
<rect x="289.6" y="636.9" width="9.6" height="9.6"/>
<rect x="308.7" y="636.6" width="9.6" height="9.6"/>
<rect x="327.9" y="636.3" width="9.6" height="9.6"/>
<rect x="347.1" y="635.9" width="9.6" height="9.6"/>
<rect x="366.3" y="635.6" width="9.6" height="9.6"/>
<rect x="385.5" y="635.3" width="9.6" height="9.6"/>
<rect x="404.7" y="635.0" width="9.6" height="9.6"/>
<rect x="423.9" y="634.6" width="9.6" height="9.6"/>
<rect x="443.1" y="634.3" width="9.6" height="9.6"/>
<rect x="462.3" y="634.0" width="9.6" height="9.6"/>
<rect x="481.4" y="633.6" width="9.6" height="9.6"/>
<rect x="500.6" y="633.3" width="9.6" height="9.6"/>
<rect x="519.8" y="633.0" width="9.6" height="9.6"/>
<rect x="539.0" y="632.6" width="9.6" height="9.6"/>
<rect x="558.2" y="632.3" width="9.6" height="9.6"/>
<circle cx="582.2" cy="641.1" r="3.3"/>
<circle cx="601.4" cy="644.4" r="3.3"/>
<circle cx="620.6" cy="646.8" r="3.3"/>
<circle cx="639.8" cy="649.2" r="3.3"/>
<circle cx="659.0" cy="650.8" r="3.3"/>
<circle cx="678.2" cy="652.1" r="3.3"/>
<circle cx="697.3" cy="653.0" r="3.3"/>
<circle cx="716.5" cy="653.5" r="3.3"/>
<circle cx="735.7" cy="652.7" r="3.3"/>
<circle cx="754.9" cy="639.5" r="3.3"/>
<circle cx="774.1" cy="598.7" r="3.3"/>
</g>
<g fill="#e2700f">
<polyline points="198.4,594.7 217.6,594.3 236.8,594.0 256.0,593.6 275.2,593.3 294.4,592.9 313.5,592.6 332.7,592.2 351.9,591.9 371.1,591.5 390.3,591.2 409.5,590.8 428.7,590.5 447.9,590.1 467.1,589.8 486.2,589.4 505.4,589.1 524.6,588.7 543.8,588.4 563.0,588.0 582.2,593.1 601.4,596.3 620.6,598.7 639.8,600.9 659.0,602.8 678.2,604.6 697.3,606.5 716.5,603.6 735.7,600.9 754.9,596.0 774.1,559.0" fill="none" stroke="#e2700f" stroke-width="2.6" stroke-linejoin="round" stroke-linecap="round"/>
<rect x="193.6" y="589.9" width="9.6" height="9.6"/>
<rect x="212.8" y="589.5" width="9.6" height="9.6"/>
<rect x="232.0" y="589.2" width="9.6" height="9.6"/>
<rect x="251.2" y="588.8" width="9.6" height="9.6"/>
<rect x="270.4" y="588.5" width="9.6" height="9.6"/>
<rect x="289.6" y="588.1" width="9.6" height="9.6"/>
<rect x="308.7" y="587.8" width="9.6" height="9.6"/>
<rect x="327.9" y="587.4" width="9.6" height="9.6"/>
<rect x="347.1" y="587.1" width="9.6" height="9.6"/>
<rect x="366.3" y="586.7" width="9.6" height="9.6"/>
<rect x="385.5" y="586.4" width="9.6" height="9.6"/>
<rect x="404.7" y="586.0" width="9.6" height="9.6"/>
<rect x="423.9" y="585.7" width="9.6" height="9.6"/>
<circle cx="447.9" cy="590.1" r="3.3"/>
<circle cx="467.1" cy="589.8" r="3.3"/>
<circle cx="486.2" cy="589.4" r="3.3"/>
<circle cx="505.4" cy="589.1" r="3.3"/>
<circle cx="524.6" cy="588.7" r="3.3"/>
<circle cx="543.8" cy="588.4" r="3.3"/>
<circle cx="563.0" cy="588.0" r="3.3"/>
<circle cx="582.2" cy="593.1" r="3.3"/>
<circle cx="601.4" cy="596.3" r="3.3"/>
<circle cx="620.6" cy="598.7" r="3.3"/>
<circle cx="639.8" cy="600.9" r="3.3"/>
<circle cx="659.0" cy="602.8" r="3.3"/>
<circle cx="678.2" cy="604.6" r="3.3"/>
<circle cx="697.3" cy="606.5" r="3.3"/>
<circle cx="716.5" cy="603.6" r="3.3"/>
<circle cx="735.7" cy="600.9" r="3.3"/>
<circle cx="754.9" cy="596.0" r="3.3"/>
<circle cx="774.1" cy="559.0" r="3.3"/>
</g>
<g fill="#10a64a">
<polyline points="198.4,557.1 217.6,556.7 236.8,556.4 256.0,556.0 275.2,555.6 294.4,555.2 313.5,554.9 332.7,554.5 351.9,554.1 371.1,553.7 390.3,553.4 409.5,553.0 428.7,552.6 447.9,552.2 467.1,551.9 486.2,551.5 505.4,551.1 524.6,550.7 543.8,550.4 563.0,550.0 582.2,555.2 601.4,559.8 620.6,562.8 639.8,565.2 659.0,567.6 678.2,569.5 697.3,571.3 716.5,572.1 735.7,561.9 754.9,525.7" fill="none" stroke="#10a64a" stroke-width="4.6" stroke-linejoin="round" stroke-linecap="round"/>
<rect x="193.5" y="552.2" width="9.8" height="9.8"/>
<rect x="212.7" y="551.8" width="9.8" height="9.8"/>
<rect x="231.9" y="551.5" width="9.8" height="9.8"/>
<circle cx="256.0" cy="556.0" r="4.8"/>
<circle cx="275.2" cy="555.6" r="4.8"/>
<circle cx="294.4" cy="555.2" r="4.8"/>
<circle cx="313.5" cy="554.9" r="4.8"/>
<circle cx="332.7" cy="554.5" r="4.8"/>
<circle cx="351.9" cy="554.1" r="4.8"/>
<circle cx="371.1" cy="553.7" r="4.8"/>
<circle cx="390.3" cy="553.4" r="4.8"/>
<circle cx="409.5" cy="553.0" r="4.8"/>
<circle cx="428.7" cy="552.6" r="4.8"/>
<circle cx="447.9" cy="552.2" r="4.8"/>
<circle cx="467.1" cy="551.9" r="4.8"/>
<circle cx="486.2" cy="551.5" r="4.8"/>
<circle cx="505.4" cy="551.1" r="4.8"/>
<circle cx="524.6" cy="550.7" r="4.8"/>
<circle cx="543.8" cy="550.4" r="4.8"/>
<circle cx="563.0" cy="550.0" r="4.8"/>
<circle cx="582.2" cy="555.2" r="4.8"/>
<circle cx="601.4" cy="559.8" r="4.8"/>
<circle cx="620.6" cy="562.8" r="4.8"/>
<circle cx="639.8" cy="565.2" r="4.8"/>
<circle cx="659.0" cy="567.6" r="4.8"/>
<circle cx="678.2" cy="569.5" r="4.8"/>
<circle cx="697.3" cy="571.3" r="4.8"/>
<circle cx="716.5" cy="572.1" r="4.8"/>
<circle cx="735.7" cy="561.9" r="4.8"/>
<circle cx="754.9" cy="525.7" r="4.8"/>
</g>
<text fill="#10a64a" style="font-weight:500"><tspan font-size="23.5" x="204.8" y="542.2" textLength="19.4" lengthAdjust="spacingAndGlyphs">9</tspan><tspan font-size="21" x="222.3" y="541.8" textLength="21.5" lengthAdjust="spacingAndGlyphs">月</tspan></text>
<line x1="203.0" y1="544.3" x2="243.5" y2="544.3" stroke="#10a64a" stroke-width="1.6"/>
<text x="203.5" y="583.6" font-size="15.5" fill="#e2700f" textLength="53.5" lengthAdjust="spacingAndGlyphs">'20 8月</text>
<text x="203.5" y="627.6" font-size="15.5" fill="#ff2020" textLength="53.5" lengthAdjust="spacingAndGlyphs">'20 7月</text>
<text x="203.5" y="695.4" font-size="15.5" fill="#10a5b0" textLength="53.5" lengthAdjust="spacingAndGlyphs">'20 6月</text>
<text x="203.5" y="796.5" font-size="15.5" fill="#b0b0b0" textLength="53.5" lengthAdjust="spacingAndGlyphs">'20 5月</text>
<text x="203.5" y="879.6" font-size="15.5" fill="#ff80ff" textLength="53.5" lengthAdjust="spacingAndGlyphs">'20 4月</text>
<text x="203.5" y="959.6" font-size="15.5" fill="#c010ff" textLength="53.5" lengthAdjust="spacingAndGlyphs">'20 3月</text>
<text x="203.5" y="981.4" font-size="15.5" fill="#1010ff" textLength="53.5" lengthAdjust="spacingAndGlyphs">'20 2月</text>
<text x="203.5" y="1012.6" font-size="15.5" fill="#10b4f0" textLength="53.5" lengthAdjust="spacingAndGlyphs">'20 1月</text>
<text x="135.8" y="922.7" font-size="16.5" fill="#9a7820" textLength="53.8" lengthAdjust="spacingAndGlyphs">'19 9月</text>
<text x="762.3" y="511.2" font-size="14.5" fill="#10a64a" style="font-weight:500" textLength="78.4" lengthAdjust="spacingAndGlyphs">438,151GB</text>
<text x="763.0" y="526.7" font-size="14" fill="#10a64a" style="font-weight:500" textLength="80.8" lengthAdjust="spacingAndGlyphs">（9月30日）</text>
<text x="775.0" y="551.0" font-size="14.5" fill="#e2700f" textLength="76.4" lengthAdjust="spacingAndGlyphs">411,519GB</text>
<text x="772.6" y="566.4" font-size="14" fill="#e2700f" textLength="81.9" lengthAdjust="spacingAndGlyphs">（8月31日）</text>
<text x="771.4" y="590.8" font-size="14.5" fill="#ff1010" textLength="77.3" lengthAdjust="spacingAndGlyphs">377,216GB</text>
<text x="770.0" y="607.0" font-size="14" fill="#ff1010" textLength="81.9" lengthAdjust="spacingAndGlyphs">（7月31日）</text>
<text x="761.5" y="654.2" font-size="14.5" fill="#10a5b0" textLength="76.5" lengthAdjust="spacingAndGlyphs">338,549GB</text>
<text x="761.8" y="670.0" font-size="14" fill="#10a5b0" textLength="79.3" lengthAdjust="spacingAndGlyphs">（6月30日）</text>
<text x="774.0" y="701.4" font-size="14.5" fill="#a6a6a6" textLength="77.4" lengthAdjust="spacingAndGlyphs">284,555GB</text>
<text x="771.8" y="716.7" font-size="14" fill="#a6a6a6" textLength="81.4" lengthAdjust="spacingAndGlyphs">（5月31日）</text>
<text x="759.2" y="800.0" font-size="14.5" fill="#ff70ff" textLength="77.2" lengthAdjust="spacingAndGlyphs">201,412GB</text>
<text x="756.2" y="815.7" font-size="14" fill="#ff70ff" textLength="80.8" lengthAdjust="spacingAndGlyphs">（4月30日）</text>
<text x="753.3" y="859.4" font-size="14.5" fill="#c010ff" textLength="77.2" lengthAdjust="spacingAndGlyphs">133,656GB</text>
<text x="750.3" y="874.7" font-size="14" fill="#c010ff" textLength="80.8" lengthAdjust="spacingAndGlyphs">（3月31日）</text>
<text x="675.3" y="918.8" font-size="14.5" fill="#1010ff" textLength="68.1" lengthAdjust="spacingAndGlyphs">87,912GB</text>
<text x="667.2" y="935.2" font-size="14" fill="#1010ff" textLength="83.9" lengthAdjust="spacingAndGlyphs">（2月29日）</text>
<text x="762.4" y="939.4" font-size="14.5" fill="#8b6508" textLength="68.1" lengthAdjust="spacingAndGlyphs">91,814GB</text>
<text x="754.2" y="955.4" font-size="14" fill="#8b6508" textLength="82.8" lengthAdjust="spacingAndGlyphs">（9月30日）</text>
<text x="779.0" y="992.4" font-size="14.5" fill="#10b0f0" textLength="68.1" lengthAdjust="spacingAndGlyphs">43,071GB</text>
<text x="772.0" y="1007.7" font-size="14" fill="#10b0f0" textLength="82.0" lengthAdjust="spacingAndGlyphs">（1月31日）</text>
<line x1="762.3" y1="511.3" x2="840.7" y2="511.3" stroke="#10a64a" stroke-width="1.2"/>
<line x1="762.8" y1="527.7" x2="839.3" y2="527.7" stroke="#10a64a" stroke-width="1.2"/>
</g>
<g id="chart-two-days">
<rect x="1075.5" y="464.5" width="686" height="600.5" fill="#ffffff" stroke="#9a9a9a" stroke-width="1"/>
<line x1="1161.6" y1="513.4" x2="1736.0" y2="513.4" stroke="#a6a6a6" stroke-width="1.3"/>
<line x1="1163.1" y1="578.4" x2="1736.0" y2="578.4" stroke="#cdcdcd" stroke-width="1.2"/>
<line x1="1161.6" y1="643.4" x2="1736.0" y2="643.4" stroke="#a6a6a6" stroke-width="1.3"/>
<line x1="1163.1" y1="708.4" x2="1736.0" y2="708.4" stroke="#cdcdcd" stroke-width="1.2"/>
<line x1="1161.6" y1="773.4" x2="1736.0" y2="773.4" stroke="#a6a6a6" stroke-width="1.3"/>
<line x1="1163.1" y1="838.4" x2="1736.0" y2="838.4" stroke="#cdcdcd" stroke-width="1.2"/>
<line x1="1161.6" y1="903.4" x2="1736.0" y2="903.4" stroke="#a6a6a6" stroke-width="1.3"/>
<line x1="1163.1" y1="968.4" x2="1736.0" y2="968.4" stroke="#cdcdcd" stroke-width="1.2"/>
<line x1="1161.6" y1="1033.4" x2="1736.0" y2="1033.4" stroke="#a6a6a6" stroke-width="1.3"/>
<line x1="1166.1" y1="513.4" x2="1166.1" y2="1037.4" stroke="#a6a6a6" stroke-width="1.3"/>
<line x1="1201.7" y1="513.4" x2="1201.7" y2="1033.4" stroke="#c8c8c8" stroke-width="1.1"/>
<line x1="1237.3" y1="513.4" x2="1237.3" y2="1037.4" stroke="#8e8e8e" stroke-width="0.85" stroke-dasharray="2.2 1.6"/>
<line x1="1273.0" y1="513.4" x2="1273.0" y2="1033.4" stroke="#c8c8c8" stroke-width="1.1"/>
<line x1="1308.6" y1="513.4" x2="1308.6" y2="1037.4" stroke="#8e8e8e" stroke-width="0.85" stroke-dasharray="2.2 1.6"/>
<line x1="1344.2" y1="513.4" x2="1344.2" y2="1033.4" stroke="#c8c8c8" stroke-width="1.1"/>
<line x1="1379.8" y1="513.4" x2="1379.8" y2="1037.4" stroke="#8e8e8e" stroke-width="0.85" stroke-dasharray="2.2 1.6"/>
<line x1="1415.4" y1="513.4" x2="1415.4" y2="1033.4" stroke="#c8c8c8" stroke-width="1.1"/>
<line x1="1451.0" y1="513.4" x2="1451.0" y2="1037.4" stroke="#8e8e8e" stroke-width="0.85" stroke-dasharray="2.2 1.6"/>
<line x1="1486.7" y1="513.4" x2="1486.7" y2="1033.4" stroke="#c8c8c8" stroke-width="1.1"/>
<line x1="1522.3" y1="513.4" x2="1522.3" y2="1037.4" stroke="#8e8e8e" stroke-width="0.85" stroke-dasharray="2.2 1.6"/>
<line x1="1557.9" y1="513.4" x2="1557.9" y2="1033.4" stroke="#c8c8c8" stroke-width="1.1"/>
<line x1="1593.5" y1="513.4" x2="1593.5" y2="1037.4" stroke="#8e8e8e" stroke-width="0.85" stroke-dasharray="2.2 1.6"/>
<line x1="1629.1" y1="513.4" x2="1629.1" y2="1033.4" stroke="#c8c8c8" stroke-width="1.1"/>
<line x1="1664.8" y1="513.4" x2="1664.8" y2="1037.4" stroke="#8e8e8e" stroke-width="0.85" stroke-dasharray="2.2 1.6"/>
<line x1="1700.4" y1="513.4" x2="1700.4" y2="1033.4" stroke="#c8c8c8" stroke-width="1.1"/>
<line x1="1736.0" y1="513.4" x2="1736.0" y2="1037.4" stroke="#8e8e8e" stroke-width="0.85" stroke-dasharray="2.2 1.6"/>
<text x="1077.0" y="521.4" font-size="18" fill="#303030" textLength="71.2" lengthAdjust="spacingAndGlyphs" class="ta">439,000</text>
<text x="1077.0" y="651.4" font-size="18" fill="#303030" textLength="71.2" lengthAdjust="spacingAndGlyphs" class="ta">429,000</text>
<text x="1077.0" y="781.4" font-size="18" fill="#303030" textLength="71.2" lengthAdjust="spacingAndGlyphs" class="ta">419,000</text>
<text x="1077.0" y="911.4" font-size="18" fill="#303030" textLength="71.2" lengthAdjust="spacingAndGlyphs" class="ta">409,000</text>
<text x="1077.0" y="1041.4" font-size="18" fill="#303030" textLength="71.2" lengthAdjust="spacingAndGlyphs" class="ta">399,000</text>
<text x="1147.1" y="1055.7" font-size="16.5" fill="#303030" textLength="38.0" lengthAdjust="spacingAndGlyphs" class="ta">0:00</text>
<text x="1218.3" y="1055.7" font-size="16.5" fill="#303030" textLength="38.0" lengthAdjust="spacingAndGlyphs" class="ta">6:00</text>
<text x="1284.3" y="1055.7" font-size="16.5" fill="#303030" textLength="48.5" lengthAdjust="spacingAndGlyphs" class="ta">12:00</text>
<text x="1355.6" y="1055.7" font-size="16.5" fill="#303030" textLength="48.5" lengthAdjust="spacingAndGlyphs" class="ta">18:00</text>
<text x="1432.0" y="1055.7" font-size="16.5" fill="#303030" textLength="38.0" lengthAdjust="spacingAndGlyphs" class="ta">0:00</text>
<text x="1503.3" y="1055.7" font-size="16.5" fill="#303030" textLength="38.0" lengthAdjust="spacingAndGlyphs" class="ta">6:00</text>
<text x="1569.3" y="1055.7" font-size="16.5" fill="#303030" textLength="48.5" lengthAdjust="spacingAndGlyphs" class="ta">12:00</text>
<text x="1640.5" y="1055.7" font-size="16.5" fill="#303030" textLength="48.5" lengthAdjust="spacingAndGlyphs" class="ta">18:00</text>
<text x="1717.0" y="1055.7" font-size="16.5" fill="#303030" textLength="38.0" lengthAdjust="spacingAndGlyphs" class="ta">0:00</text>
<text fill="#303030"><tspan font-size="16" x="1087.2" y="500.3">（</tspan><tspan font-size="14" x="1103.3" y="499.6" textLength="25.6" lengthAdjust="spacingAndGlyphs">GB</tspan><tspan font-size="16" x="1128.9" y="500.3">）</tspan></text>
<text font-size="27" fill="#000000" style="font-weight:400"><tspan x="1197.0" y="500.8" textLength="265.5" lengthAdjust="spacingAndGlyphs">フリータンクの残容量</tspan><tspan x="1459.5" y="500.8">（</tspan><tspan class="tt" font-size="29" x="1488.0" y="501.6" textLength="72.5" lengthAdjust="spacingAndGlyphs">9/29</tspan><tspan x="1560.0" y="500.8" textLength="29.5" lengthAdjust="spacingAndGlyphs">～</tspan><tspan class="tt" font-size="29" x="1588.0" y="501.6" textLength="72.5" lengthAdjust="spacingAndGlyphs">9/30</tspan><tspan x="1662.5" y="500.8">）</tspan></text>
<polyline points="1166.2,1021.7 1170.0,1021.6 1249.2,1017.7 1253.5,1017.5 1257.5,1017.3 1261.5,1017.1 1265.5,1016.9 1269.5,1016.7 1274.0,1016.5 1278.0,1016.3 1282.5,1016.1 1286.5,1015.9 1291.0,1015.7 1295.5,1015.5 1300.0,1015.3 1304.5,1015.1 1309.0,1014.9 1313.5,1015.2 1318.0,1014.7 1322.5,1014.4 1327.0,1014.2 1331.5,1013.9 1336.0,1013.7 1340.5,1013.5 1344.8,1013.2 1347.4,1006.5 1351.4,1001.7 1355.6,994.5 1361.7,986.1 1368.3,981.9 1374.3,974.6 1379.1,971.0 1389.4,962.6 1395.4,957.8 1403.2,953.6 1414.0,943.9 1419.5,940.9 1427.3,933.7 1432.7,928.3 1439.3,923.5 1444.7,919.9 1450.8,916.9 1455.0,914.4 1522.2,895.4 1528.5,888.5 1533.3,884.3 1538.2,878.1 1545.1,872.5 1550.7,867.6 1557.6,861.4 1562.5,857.2 1569.4,853.1 1575.7,840.6 1581.9,832.2 1588.9,824.6 1593.1,820.4 1599.3,814.2 1604.9,807.9 1609.7,802.4 1617.4,796.1 1622.2,792.6 1641.7,776.0 1644.4,771.1 1652.6,762.6 1659.4,754.4 1664.4,746.3 1669.3,737.0 1676.7,722.2 1683.6,709.5 1687.9,694.5 1691.4,685.2 1700.2,660.3 1706.0,643.3 1711.8,620.6 1716.7,601.1 1721.6,586.3 1722.9,579.1 1726.8,565.5 1730.3,551.3 1732.7,539.2 1736.2,524.6" fill="none" stroke="#0cab4e" stroke-width="3.7" stroke-linejoin="round" stroke-linecap="round"/>
<g fill="#0cab4e">
<circle cx="1166.2" cy="1021.7" r="4.3"/>
<circle cx="1170.0" cy="1021.6" r="4.3"/>
<circle cx="1249.2" cy="1017.7" r="4.3"/>
<circle cx="1253.5" cy="1017.5" r="4.3"/>
<circle cx="1257.5" cy="1017.3" r="4.3"/>
<circle cx="1261.5" cy="1017.1" r="4.3"/>
<circle cx="1265.5" cy="1016.9" r="4.3"/>
<circle cx="1269.5" cy="1016.7" r="4.3"/>
<circle cx="1274.0" cy="1016.5" r="4.3"/>
<circle cx="1278.0" cy="1016.3" r="4.3"/>
<circle cx="1282.5" cy="1016.1" r="4.3"/>
<circle cx="1286.5" cy="1015.9" r="4.3"/>
<circle cx="1291.0" cy="1015.7" r="4.3"/>
<circle cx="1295.5" cy="1015.5" r="4.3"/>
<circle cx="1300.0" cy="1015.3" r="4.3"/>
<circle cx="1304.5" cy="1015.1" r="4.3"/>
<circle cx="1309.0" cy="1014.9" r="4.3"/>
<circle cx="1313.5" cy="1015.2" r="4.3"/>
<circle cx="1318.0" cy="1014.7" r="4.3"/>
<circle cx="1322.5" cy="1014.4" r="4.3"/>
<circle cx="1327.0" cy="1014.2" r="4.3"/>
<circle cx="1331.5" cy="1013.9" r="4.3"/>
<circle cx="1336.0" cy="1013.7" r="4.3"/>
<circle cx="1340.5" cy="1013.5" r="4.3"/>
<circle cx="1344.8" cy="1013.2" r="4.3"/>
<circle cx="1351.4" cy="1001.7" r="4.3"/>
<circle cx="1355.6" cy="994.5" r="4.3"/>
<circle cx="1361.7" cy="986.1" r="4.3"/>
<circle cx="1368.3" cy="981.9" r="4.3"/>
<circle cx="1374.3" cy="974.6" r="4.3"/>
<circle cx="1379.1" cy="971.0" r="4.3"/>
<circle cx="1389.4" cy="962.6" r="4.3"/>
<circle cx="1395.4" cy="957.8" r="4.3"/>
<circle cx="1403.2" cy="953.6" r="4.3"/>
<circle cx="1414.0" cy="943.9" r="4.3"/>
<circle cx="1419.5" cy="940.9" r="4.3"/>
<circle cx="1427.3" cy="933.7" r="4.3"/>
<circle cx="1432.7" cy="928.3" r="4.3"/>
<circle cx="1439.3" cy="923.5" r="4.3"/>
<circle cx="1444.7" cy="919.9" r="4.3"/>
<circle cx="1450.8" cy="916.9" r="4.3"/>
<circle cx="1455.0" cy="914.4" r="4.3"/>
<circle cx="1522.2" cy="895.4" r="4.3"/>
<circle cx="1528.5" cy="888.5" r="4.3"/>
<circle cx="1533.3" cy="884.3" r="4.3"/>
<circle cx="1538.2" cy="878.1" r="4.3"/>
<circle cx="1545.1" cy="872.5" r="4.3"/>
<circle cx="1550.7" cy="867.6" r="4.3"/>
<circle cx="1557.6" cy="861.4" r="4.3"/>
<circle cx="1562.5" cy="857.2" r="4.3"/>
<circle cx="1569.4" cy="853.1" r="4.3"/>
<circle cx="1575.7" cy="840.6" r="4.3"/>
<circle cx="1581.9" cy="832.2" r="4.3"/>
<circle cx="1588.9" cy="824.6" r="4.3"/>
<circle cx="1593.1" cy="820.4" r="4.3"/>
<circle cx="1599.3" cy="814.2" r="4.3"/>
<circle cx="1604.9" cy="807.9" r="4.3"/>
<circle cx="1609.7" cy="802.4" r="4.3"/>
<circle cx="1617.4" cy="796.1" r="4.3"/>
<circle cx="1622.2" cy="792.6" r="4.3"/>
<circle cx="1641.7" cy="776.0" r="4.3"/>
<circle cx="1644.4" cy="771.1" r="4.3"/>
<circle cx="1652.6" cy="762.6" r="4.3"/>
<circle cx="1659.4" cy="754.4" r="4.3"/>
<circle cx="1664.4" cy="746.3" r="4.3"/>
<circle cx="1669.3" cy="737.0" r="4.3"/>
<circle cx="1676.7" cy="722.2" r="4.3"/>
<circle cx="1683.6" cy="709.5" r="4.3"/>
<circle cx="1687.9" cy="694.5" r="4.3"/>
<circle cx="1691.4" cy="685.2" r="4.3"/>
<circle cx="1700.2" cy="660.3" r="4.3"/>
<circle cx="1706.0" cy="643.3" r="4.3"/>
<circle cx="1711.8" cy="620.6" r="4.3"/>
<circle cx="1716.7" cy="601.1" r="4.3"/>
<circle cx="1721.6" cy="586.3" r="4.3"/>
<circle cx="1722.9" cy="579.1" r="4.3"/>
<circle cx="1726.8" cy="565.5" r="4.3"/>
<circle cx="1730.3" cy="551.3" r="4.3"/>
<circle cx="1732.7" cy="539.2" r="4.3"/>
<circle cx="1736.2" cy="524.6" r="4.3"/>
</g>
<path d="M1526.4 517.6 L1692.5 517.6 A9 9 0 0 1 1701.5 526.6 L1701.5 527.5 L1737.1 526.6 L1701.5 540.6 L1701.5 562.7 A9 9 0 0 1 1692.5 571.7 L1526.4 571.7 A9 9 0 0 1 1517.4 562.7 L1517.4 526.6 A9 9 0 0 1 1526.4 517.6 Z" fill="#800000" stroke="#c00000" stroke-width="2.5" stroke-linejoin="round"/>
<text x="1580.6" y="536.3" font-size="12.5" fill="#ffff00" textLength="59.3" lengthAdjust="spacingAndGlyphs">10/1 0:00</text>
<text x="1532.4" y="558.4" font-size="18.5" fill="#ffff00" textLength="154.2" lengthAdjust="spacingAndGlyphs">438,150,939MB</text>
<path d="M1505.0 590.5 L1671.2 590.5 A9 9 0 0 1 1680.2 599.5 L1680.2 621.3 L1706.6 643.3 L1680.2 634.9 L1680.2 635.0 A9 9 0 0 1 1671.2 644.0 L1505.0 644.0 A9 9 0 0 1 1496.0 635.0 L1496.0 599.5 A9 9 0 0 1 1505.0 590.5 Z" fill="#800000" stroke="#c00000" stroke-width="2.5" stroke-linejoin="round"/>
<text x="1553.4" y="609.2" font-size="12.5" fill="#ffff00" textLength="69.0" lengthAdjust="spacingAndGlyphs">9/30 21:23</text>
<text x="1511.0" y="630.5" font-size="18.5" fill="#ffff00" textLength="154.2" lengthAdjust="spacingAndGlyphs">429,070,701MB</text>
<path d="M1473.2 657.5 L1640.8 657.5 A9 9 0 0 1 1649.8 666.5 L1649.8 688.2 L1684.3 711.1 L1649.8 700.6 L1649.8 701.0 A9 9 0 0 1 1640.8 710.0 L1473.2 710.0 A9 9 0 0 1 1464.2 701.0 L1464.2 666.5 A9 9 0 0 1 1473.2 657.5 Z" fill="#800000" stroke="#c00000" stroke-width="2.5" stroke-linejoin="round"/>
<text x="1523.0" y="675.8" font-size="12.5" fill="#ffff00" textLength="68.7" lengthAdjust="spacingAndGlyphs">9/30 19:28</text>
<text x="1480.0" y="697.2" font-size="18.5" fill="#ffff00" textLength="154.4" lengthAdjust="spacingAndGlyphs">423,869,025MB</text>
<path d="M1370.8 720.1 L1530.6 720.1 A12 12 0 0 1 1542.6 732.1 L1542.6 799.7 A12 12 0 0 1 1530.6 811.7 L1510.0 811.7 L1576.7 840.6 L1465.0 811.7 L1370.8 811.7 A12 12 0 0 1 1358.8 799.7 L1358.8 732.1 A12 12 0 0 1 1370.8 720.1 Z" fill="#ff9999" stroke="#ff0000" stroke-width="2.5" stroke-linejoin="round"/>
<text x="1415.5" y="740.7" font-size="12.5" fill="#7a1a1a" textLength="68.2" lengthAdjust="spacingAndGlyphs">9/30 10:30</text>
<text x="1390.7" y="757.9" font-size="13.5" fill="#7a1a1a" style="font-weight:400" textLength="116.8" lengthAdjust="spacingAndGlyphs">mineoアプリより、</text>
<text x="1380.6" y="774.2" font-size="13" fill="#7a1a1a" style="font-weight:400" textLength="138.7" lengthAdjust="spacingAndGlyphs">ﾌﾘｰﾀﾝｸIN促進通知あり!!</text>
<text x="1373.0" y="795.9" font-size="18.5" fill="#7a1a1a" textLength="153.8" lengthAdjust="spacingAndGlyphs">413,819,827MB</text>
<path d="M1444.0 970.7 L1607.4 970.7 A9 9 0 0 1 1616.4 979.7 L1616.4 1013.5 A9 9 0 0 1 1607.4 1022.5 L1444.0 1022.5 A9 9 0 0 1 1435.0 1013.5 L1435.0 989.5 L1379.5 971.9 L1435.0 977.5 L1435.0 979.7 A9 9 0 0 1 1444.0 970.7 Z" fill="#ff9999" stroke="#ff0000" stroke-width="2.5" stroke-linejoin="round"/>
<text x="1491.2" y="988.3" font-size="12.5" fill="#7a1a1a" textLength="67.5" lengthAdjust="spacingAndGlyphs">9/29 18:00</text>
<text x="1448.0" y="1009.7" font-size="18.5" fill="#7a1a1a" textLength="153.8" lengthAdjust="spacingAndGlyphs">403,730,308MB</text>
<path d="M1136.7 914.9 L1300.5 914.9 A10 10 0 0 1 1310.5 924.9 L1310.5 956.9 L1351.7 1001.8 L1310.5 974.5 L1310.5 977.2 A10 10 0 0 1 1300.5 987.2 L1136.7 987.2 A10 10 0 0 1 1126.7 977.2 L1126.7 924.9 A10 10 0 0 1 1136.7 914.9 Z" fill="#66ccff" stroke="#6a9bff" stroke-width="2.7" stroke-linejoin="round"/>
<text x="1183.7" y="934.0" font-size="12.5" fill="#1f3a7a" textLength="68.3" lengthAdjust="spacingAndGlyphs">7/30 15:35</text>
<text x="1151.9" y="949.5" font-size="13" fill="#1f3a7a" style="font-weight:400" textLength="132.3" lengthAdjust="spacingAndGlyphs">ﾌﾘｰﾀﾝｸIN促進ﾒｰﾙ配信!!</text>
<text x="1140.6" y="972.2" font-size="18.5" fill="#1f3a7a" textLength="153.7" lengthAdjust="spacingAndGlyphs">401,444,135MB</text>
</g>
</svg>
</body>
</html>
